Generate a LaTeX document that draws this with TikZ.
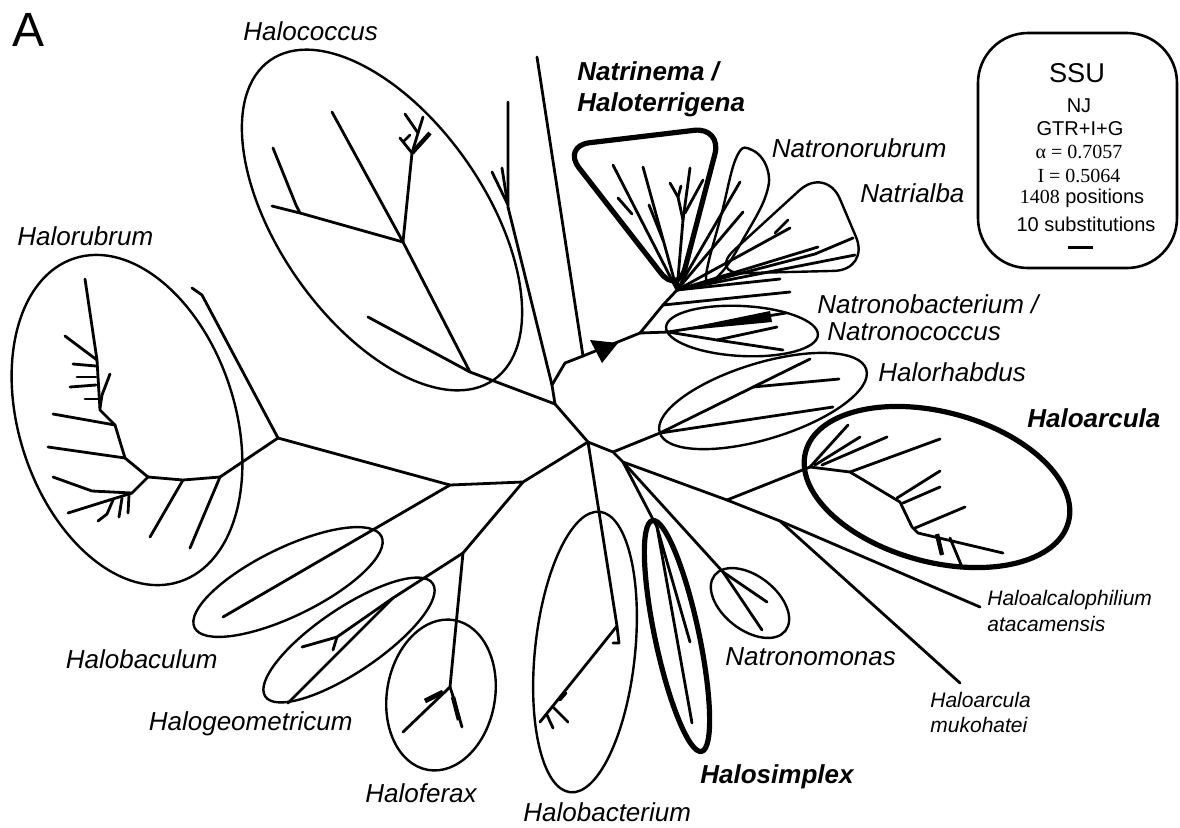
\documentclass[tikz,border=0pt]{standalone}
\usepackage{fontspec}
\setmainfont{Liberation Sans}
\newfontfamily\serifnum{Liberation Serif}
\usetikzlibrary{arrows}

\begin{document}
\begin{tikzpicture}[x=0.5pt,y=-0.5pt,
        branch/.style={line width=1.4pt,line cap=round,line join=round},
        clade/.style={line width=1.2pt},
        keyclade/.style={line width=2.6pt},
        taxon/.style={inner sep=0pt,font=\fontsize{13}{15}\selectfont\itshape},
        keytaxon/.style={inner sep=0pt,font=\fontsize{13}{15}\selectfont\bfseries\itshape},
        minortaxon/.style={inner sep=0pt,font=\fontsize{10.5}{12}\selectfont\itshape},
        boxtext/.style={inner sep=0pt,font=\fontsize{10}{12}\selectfont}]
        \useasboundingbox (0,0) rectangle (1180,827);

        % internal nodes of the tree
        \coordinate (c1) at (555,404);
        \coordinate (c2) at (588,442);
        \coordinate (c3) at (613,452);
        \coordinate (d) at (623,462);
        \coordinate (e) at (727,500);
        \coordinate (f) at (780,521);
        \coordinate (p1) at (552,385);
        \coordinate (p2) at (565,363);
        \coordinate (p3) at (583,356);
        \coordinate (n1) at (640,333);
        \coordinate (n2) at (663,305);
        \coordinate (nr) at (677,290);
        \coordinate (nb) at (668,332);
        \coordinate (hrh) at (660,433);
        \coordinate (ha) at (810,467);
        \coordinate (nm) at (723,572);
        \coordinate (hs) at (657,527);
        \coordinate (hb) at (617,626);
        \coordinate (g1) at (523,482);
        \coordinate (g2) at (450,485);
        \coordinate (hf) at (463,553);
        \coordinate (hg) at (393,598);
        \coordinate (hcn) at (470,372);
        \coordinate (h1) at (403,242);
        \coordinate (hr0) at (278,438);
        \coordinate (hr1) at (220,477);
        \coordinate (hr2) at (148,477);

        % backbone
        \draw[branch] (c1) -- (c2) -- (c3) -- (d) -- (e) -- (f) -- (980,607);
        \draw[branch] (c1) -- (p1) -- (p2) -- (p3) -- (n1) -- (n2) -- (nr);
        \fill (590,340) -- (618,343) -- (602,363) -- cycle;
        \draw[branch] (p1) -- (508,207) -- (508,102);
        \draw[branch] (508,205) -- (492,172);
        \draw[branch] (507,200) -- (502,168);
        \draw[branch] (p3) -- (537,57);

        % Natrinema / Natronorubrum / Natrialba
        \draw[branch] (n2) -- (790,292);
        \draw[branch] (nr) -- (780,279);
        \draw[branch] (nr) -- (613,165);
        \draw[branch] (618,198) -- (632,214);
        \draw[branch] (nr) -- (643,167);
        \draw[branch] (649,205) -- (663,240);
        \draw[branch] (nr) -- (683,220) -- (690,168);
        \draw[branch] (683,220) -- (678,197) -- (670,183);
        \draw[branch] (678,197) -- (681,186);
        \draw[branch] (685,213) -- (703,180);
        \draw[branch] (nr) -- (740,182);
        \draw[branch] (nr) -- (743,212);
        \draw[branch] (nr) -- (790,228);
        \draw[branch] (775,233) -- (788,220);
        \draw[branch] (nr) -- (818,247);
        \draw[branch] (nr) -- (815,254) -- (853,238);
        \draw[branch] (nr) -- (855,255);
        \draw[keyclade,rounded corners=14] (678,295) -- (562,146) -- (722,127) -- cycle;
        \draw[clade] plot[smooth cycle,tension=0.7] coordinates {(706,278) (722,212) (737,156) (752,150) (767,168) (766,195) (745,236) (722,272)};
        \draw[clade,rounded corners=18] (708,274) -- (826,166) -- (870,270) -- cycle;

        % Natronobacterium / Natronococcus
        \draw[branch] (n1) -- (nb);
        \fill (nb) -- (770,311) -- (772,322) -- cycle;
        \draw[branch] (nb) -- (786,313);
        \draw[branch] (nb) -- (717,340) -- (777,327);
        \draw[branch] (717,340) -- (783,350);
        \draw[clade] (742,331) circle[x radius=76,y radius=25,rotate=-3];

        % Halorhabdus
        \draw[branch] (c3) -- (hrh) -- (810,359);
        \draw[branch] (753,387) -- (839,379);
        \draw[branch] (hrh) -- (833,407);
        \draw[clade] (763,401) circle[x radius=108,y radius=38,rotate=17];

        % Haloarcula
        \draw[branch] (e) -- (ha);
        \draw[branch] (ha) -- (848,425);
        \draw[branch] (815,465) -- (860,437);
        \draw[branch] (822,465) -- (887,437);
        \draw[branch] (850,472) -- (940,439);
        \draw[branch] (ha) -- (850,472) -- (900,502) -- (912,527) -- (918,533) -- (1003,553);
        \draw[branch] (897,498) -- (940,471);
        \draw[branch] (903,503) -- (940,487);
        \draw[branch] (915,528) -- (965,507);
        \draw[line width=2.2pt] (937,534) -- (942,555);
        \draw[branch] (950,538) -- (962,567);
        \draw[keyclade] (937,487) circle[x radius=136,y radius=75,rotate=-15];
        \draw[branch] (f) -- (960,683);

        % Natronomonas
        \draw[branch] (d) -- (nm) -- (767,602);
        \draw[branch] (nm) -- (762,630);
        \draw[clade] (750,603) circle[x radius=45,y radius=27,rotate=-38];

        % Halosimplex
        \draw[branch] (d) -- (hs) -- (692,723);
        \draw[branch] (hs) -- (690,642);
        \draw[keyclade] (677,636) circle[x radius=22,y radius=118,rotate=12];

        % Halobacterium
        \draw[branch] (c2) -- (hb) -- (619,643) -- (613,643);
        \draw[branch] (hb) -- (540,722);
        \draw[branch] (553,707) -- (568,722);
        \draw[branch] (547,715) -- (553,728);
        \draw[branch] (560,700) -- (566,693);
        \draw[clade] (585,652) circle[x radius=50,y radius=141,rotate=-6];

        % Haloferax, Halogeometricum, Halobaculum
        \draw[branch] (c2) -- (g1) -- (g2) -- (hr0);
        \draw[branch] (g2) -- (223,617);
        \draw[branch] (g1) -- (hf) -- (450,687) -- (403,732);
        \draw[branch] (450,687) -- (452,693) -- (462,727);
        \draw[line width=2.4pt] (425,701) -- (443,692);
        \draw[line width=2.2pt] (453,697) -- (459,720);
        \draw[branch] (hf) -- (hg) -- (288,703);
        \draw[branch] (hg) -- (337,637) -- (302,647);
        \draw[branch] (337,637) -- (333,650);
        \draw[clade] (441,695) circle[x radius=54,y radius=76,rotate=-10];
        \draw[clade] (349,640) circle[x radius=101,y radius=32,rotate=34];
        \draw[clade] (288,582) circle[x radius=104,y radius=34,rotate=26];

        % Halococcus
        \draw[branch] (c1) -- (hcn) -- (368,317);
        \draw[branch] (hcn) -- (h1) -- (332,112);
        \draw[branch] (h1) -- (412,153) -- (418,133) -- (405,114);
        \draw[branch] (418,133) -- (423,117);
        \draw[branch] (412,153) -- (400,138);
        \draw[line width=2.2pt] (412,153) -- (430,133);
        \draw[branch] (404,141) -- (410,135);
        \draw[branch] (h1) -- (300,213) -- (272,206);
        \draw[branch] (300,213) -- (296,205) -- (273,148);
        \draw[clade] (382,220) circle[x radius=195,y radius=103,rotate=-55];

        % Halorubrum
        \draw[branch] (hr0) -- (202,295) -- (192,288);
        \draw[branch] (hr0) -- (hr1) -- (190,548);
        \draw[branch] (hr1) -- (183,480) -- (hr2);
        \draw[branch] (183,480) -- (150,537);
        \draw[branch] (hr2) -- (125,458) -- (115,425) -- (100,410) -- (97,360) -- (85,279);
        \draw[branch] (125,458) -- (48,447);
        \draw[branch] (115,425) -- (53,414);
        \draw[branch] (97,360) -- (65,336);
        \draw[branch] (96,366) -- (73,364);
        \draw[branch] (96,377) -- (77,377);
        \draw[branch] (96,385) -- (70,387);
        \draw[branch] (99,399) -- (85,399);
        \draw[branch] (100,408) -- (102,395) -- (110,374);
        \draw[branch] (hr2) -- (132,493) -- (92,491) -- (53,477);
        \draw[branch] (132,493) -- (68,513);
        \draw[branch] (129,495) -- (128,513);
        \draw[branch] (122,498) -- (119,517);
        \draw[branch] (113,500) -- (107,514) -- (98,521);
        \draw[clade] (127,420) circle[x radius=108,y radius=170,rotate=18];

        % labels
        \node[anchor=base west,inner sep=0pt,font=\fontsize{24}{28}\selectfont] (panel) at (12,46) {A};
        \node[taxon,anchor=base west] (halococcus) at (243,40) {Halococcus};
        \node[taxon,anchor=base west] (halorubrum) at (17,245) {Halorubrum};
        \node[keytaxon,anchor=base west] (natrinema) at (577,80) {Natrinema /};
        \node[keytaxon,anchor=base west] (haloterrigena) at (577,111) {Haloterrigena};
        \node[taxon,anchor=base east] (natronorubrum) at (947,157) {Natronorubrum};
        \node[taxon,anchor=base west] (natrialba) at (860,202) {Natrialba};
        \node[taxon,anchor=base west] (natronobacterium) at (817,313) {Natronobacterium /};
        \node[taxon,anchor=base west] (natronococcus) at (827,340) {Natronococcus};
        \node[taxon,anchor=base west] (halorhabdus) at (878,381) {Halorhabdus};
        \node[keytaxon,anchor=base west] (haloarcula) at (1027,427) {Haloarcula};
        \node[minortaxon,anchor=base west] (haloalcalophilium) at (987,605) {Haloalcalophilium};
        \node[minortaxon,anchor=base west] (atacamensis) at (987,631) {atacamensis};
        \node[minortaxon,anchor=base west] (mukohateigenus) at (930,707) {Haloarcula};
        \node[minortaxon,anchor=base west] (mukohatei) at (930,732) {mukohatei};
        \node[taxon,anchor=base west] (natronomonas) at (725,665) {Natronomonas};
        \node[keytaxon,anchor=base west] (halosimplex) at (700,783) {Halosimplex};
        \node[taxon,anchor=base west] (halobacterium) at (523,821) {Halobacterium};
        \node[taxon,anchor=base west] (haloferax) at (365,802) {Haloferax};
        \node[taxon,anchor=base east] (halogeometricum) at (353,730) {Halogeometricum};
        \node[taxon,anchor=base east] (halobaculum) at (218,668) {Halobaculum};

        % legend box
        \draw[line width=1.3pt,rounded corners=25] (978,33) rectangle (1177,268);
        \node[anchor=base,inner sep=0pt,font=\fontsize{13.6}{16}\selectfont] (ssu) at (1077,82) {SSU};
        \node[boxtext,anchor=base] (nj) at (1079,112) {NJ};
        \node[boxtext,anchor=base] (model) at (1080,135) {GTR+I+G};
        \node[boxtext,anchor=base] (alpha) at (1079,158) {\serifnum α = 0.7057};
        \node[boxtext,anchor=base] (pinv) at (1079,182) {\serifnum I = 0.5064};
        \node[boxtext,anchor=base] (positions) at (1082,203) {{\serifnum 1408} positions};
        \node[boxtext,anchor=base] (subst) at (1086,231) {10 substitutions};
        \draw[line width=1.5pt] (1068,247) -- (1093,247);
    \end{tikzpicture}
\end{document}
